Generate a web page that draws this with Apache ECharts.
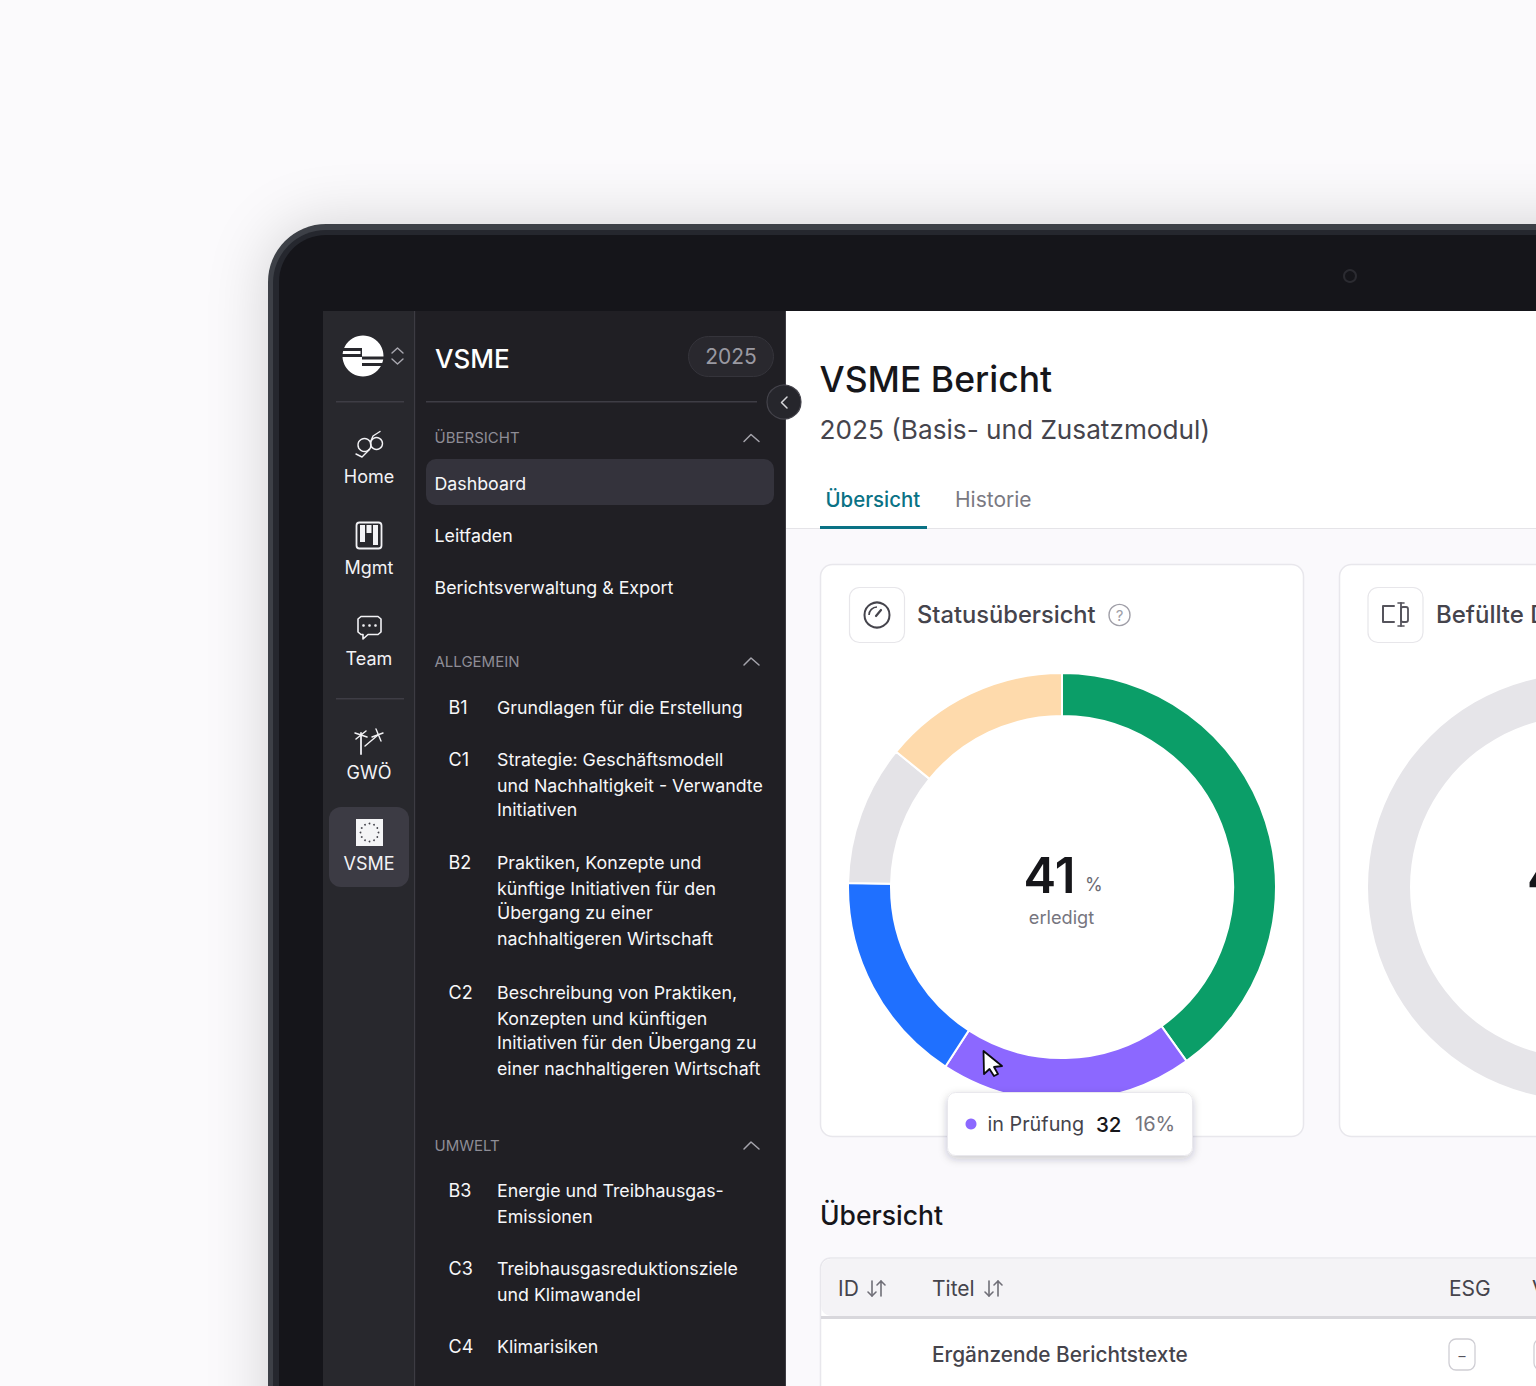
<!DOCTYPE html>
<html><head><meta charset="utf-8">
<style>html,body{margin:0;padding:0;background:#fbfafc;overflow:hidden}#c{width:1536px;height:1386px}</style>
<script src="https://cdn.jsdelivr.net/npm/echarts@6/dist/echarts.min.js"></script>
</head><body><div id="c"></div>
<script>
// Chart data
const statusNames = ['erledigt', 'in Prüfung', 'in Bearbeitung', 'offen', 'zurückgestellt'];
const statusValues = [67.4, 32, 27.1, 17.8, 23.7];
const statusColors = ['#0b9e68', '#8c68ff', '#1f70ff', '#e4e3e7', '#fedaac'];
const filledNames = ['leer'];
const filledValues = [1];
const filledColors = ['#e6e5e9'];
const doneText = '41';
const tooltipName = 'in Prüfung';
const tooltipCount = '32';
const tooltipShare = '16%';
// Navigation text
const railLabels = ['Home', 'Mgmt', 'Team', 'GWÖ', 'VSME'];
const railLabelY = [476, 567, 658, 772, 863];
const navTop = ['Dashboard', 'Leitfaden', 'Berichtsverwaltung & Export'];
const navTopY = [483, 535, 587];
const navSections = ['ÜBERSICHT', 'ALLGEMEIN', 'UMWELT'];
const navSectionY = [437.5, 661, 1145];
const navIds = ['B1', 'C1', 'B2', 'C2', 'B3', 'C3', 'C4'];
const navIdY = [707, 759, 862, 992, 1190.5, 1268, 1346];
const navLines = [
  ['Grundlagen für die Erstellung'],
  ['Strategie: Geschäftsmodell', 'und Nachhaltigkeit - Verwandte', 'Initiativen'],
  ['Praktiken, Konzepte und', 'künftige Initiativen für den', 'Übergang zu einer', 'nachhaltigeren Wirtschaft'],
  ['Beschreibung von Praktiken,', 'Konzepten und künftigen', 'Initiativen für den Übergang zu', 'einer nachhaltigeren Wirtschaft'],
  ['Energie und Treibhausgas-', 'Emissionen'],
  ['Treibhausgasreduktionsziele', 'und Klimawandel'],
  ['Klimarisiken']
];

const FONT = 'Inter, "Noto Sans", sans-serif';
const els = [];
function t(x, y, text, size, fill, weight, align, z) {
  els.push({type:'text', silent:true, z:z||3, style:{x, y, text, fill, fontFamily:FONT, fontSize:size, fontWeight:weight||400, textAlign:align||'left', textVerticalAlign:'middle'}});
}
function r(x, y, w, h, fill, rad, stroke, lw, z, extra) {
  els.push({type:'rect', silent:true, z:z||1, shape:{x, y, width:w, height:h, r:rad||0}, style:Object.assign({fill:fill||'transparent', stroke:stroke||null, lineWidth:lw||1}, extra||{})});
}
function c(cx, cy, rad, fill, stroke, lw, z) {
  els.push({type:'circle', silent:true, z:z||3, shape:{cx, cy, r:rad}, style:{fill:fill||'transparent', stroke:stroke||null, lineWidth:lw||1}});
}
function pl(points, stroke, lw, z) {
  els.push({type:'polyline', silent:true, z:z||3, shape:{points}, style:{fill:null, stroke, lineWidth:lw||1.5, lineCap:'round', lineJoin:'round'}});
}
function pg(points, fill, stroke, lw, z) {
  els.push({type:'polygon', silent:true, z:z||3, shape:{points}, style:{fill, stroke:stroke||null, lineWidth:lw||1, lineJoin:'round'}});
}

// Laptop frame
r(268, 224, 1600, 1600, '#3c4046', 58, null, 1, 0, {shadowBlur:60, shadowColor:'rgba(30,30,50,0.16)'});
r(273, 230, 1600, 1600, '#25272e', 53, null, 1, 0);
r(279, 235, 1600, 1600, '#15151a', 47, null, 1, 0);
c(1350, 276, 6, 'transparent', '#2b2b31', 2, 1);

// Screen panels
r(323, 311, 91, 1100, '#28282d');
r(414, 311, 1.5, 1100, '#3d3c43');
r(415.5, 311, 370, 1100, '#201f24');
r(785, 311, 1.5, 1100, '#3d3c43');
r(786, 311, 800, 217, '#ffffff');
r(786, 528, 800, 900, '#faf9fc');
r(786, 528, 800, 1, '#e5e4e8');

// Rail
c(363, 356, 20.5, '#ffffff');
r(342, 348, 20, 3, '#28282d', 0, null, 1, 3);
r(342, 354, 20, 3, '#28282d', 0, null, 1, 3);
r(362, 356.5, 22, 3, '#28282d', 0, null, 1, 3);
r(362, 363, 22, 3, '#28282d', 0, null, 1, 3);
r(360.5, 348, 1.5, 9, '#28282d', 0, null, 1, 3);
pl([[392,353],[397.5,348],[403,353]], '#a9a8b0', 1.4);
pl([[392,359],[397.5,364],[403,359]], '#a9a8b0', 1.4);
r(336, 401, 68, 1.5, '#3e3d45', 0, null, 1, 2);
r(336, 698, 68, 1.5, '#3e3d45', 0, null, 1, 2);
r(329, 807, 80, 80, '#3c3b44', 12, null, 1, 2);
railLabels.forEach((s, i) => t(369, railLabelY[i], s, 18, '#f2f2f5', 400, 'center'));
// Home icon
c(376.5, 443.5, 6, null, '#f2f2f5', 1.4);
c(364.5, 445, 6.5, null, '#f2f2f5', 1.4);
pl([[370.5,442],[373,436],[380,431.5]], '#f2f2f5', 1.4);
pl([[369.5,449.5],[366,453],[362,457],[356,454]], '#f2f2f5', 1.4);
// Mgmt icon
r(356.5, 522.5, 25, 26, 'transparent', 3, '#f2f2f5', 1.8, 3);
r(360, 525, 5, 17, '#f2f2f5', 0, null, 1, 3);
r(366.5, 525, 5, 8, '#f2f2f5', 0, null, 1, 3);
r(373, 525, 5, 20, '#f2f2f5', 0, null, 1, 3);
// Team icon
pl([[361,616.5],[378,616.5],[381,619],[381,632],[378,634.5],[368,634.5],[363,639],[363,634.5],[361,634.5],[358,632],[358,619],[361,616.5]], '#f2f2f5', 1.6);
c(363.5, 625.5, 1.3, '#f2f2f5'); c(369.5, 625.5, 1.3, '#f2f2f5'); c(375.5, 625.5, 1.3, '#f2f2f5');
// GWÖ icon
pl([[361,733],[361,754]], '#d9d9de', 2);
pl([[355,733],[367,737]], '#f2f2f5', 1.5);
pl([[356,739],[366,731]], '#f2f2f5', 1.5);
pl([[365,746],[378,735]], '#f2f2f5', 1.4);
pl([[376,729],[381,741]], '#f2f2f5', 1.4);
pl([[372,737],[383,733]], '#f2f2f5', 1.4);
// VSME icon
r(356, 819, 27, 27, '#f4f4f6', 0, null, 1, 3);
[0,30,60,90,120,150,180,210,240,270,300,330].forEach(a => {
  c(369.5 + 9 * Math.cos(a * Math.PI / 180), 832.5 + 9 * Math.sin(a * Math.PI / 180), 0.9, '#44434c');
});

// Nav panel
t(435, 358, 'VSME', 26, '#ffffff', 500);
r(688.5, 336.5, 85, 40, '#29282e', 20, '#35343b', 1, 2);
t(731, 356, '2025', 21, '#9a99a2', 400, 'center');
r(426, 401, 331, 1.5, '#3e3d45', 0, null, 1, 2);
c(784, 402, 17, '#26262c', '#44434b', 1.2, 4);
pl([[787,397],[781.5,402.5],[787,408]], '#d6d6da', 1.5, 5);
r(426, 459, 348, 46, '#34333c', 10, null, 1, 2);
navSections.forEach((s, i) => {
  t(434.5, navSectionY[i], s, 15, '#8e8d96', 400);
  pl([[744, navSectionY[i] + 4],[751, navSectionY[i] - 3],[759, navSectionY[i] + 4]], '#a5a4ac', 1.5);
});
navTop.forEach((s, i) => t(434.5, navTopY[i], s, 17.8, '#f7f7f9', 400));
const lineSteps = [0, 26, 50, 76];
navIds.forEach((id, i) => {
  t(448.5, navIdY[i], id, 18, '#f7f7f9', 400);
  navLines[i].forEach((s, j) => t(497, navIdY[i] + lineSteps[j], s, 17.8, '#f7f7f9', 400));
});

// Header
t(819.5, 379, 'VSME Bericht', 35.5, '#16161a', 500);
t(819.5, 429, '2025 (Basis- und Zusatzmodul)', 26.2, '#45444c', 400);
t(825.5, 499, 'Übersicht', 20.4, '#0a7285', 500);
t(955, 499, 'Historie', 21, '#7a7982', 400);
r(820, 526, 107, 3, '#0a7285', 0, null, 1, 3);

// Cards
r(820.5, 564.5, 483, 572, '#ffffff', 12, '#e8e7ec', 1.5, 1);
r(1339.5, 564.5, 500, 572, '#ffffff', 12, '#e8e7ec', 1.5, 1);
r(849.5, 587.5, 55, 55, '#ffffff', 10, '#e7e6ea', 1.2, 2);
r(1368, 587.5, 55, 55, '#ffffff', 10, '#e7e6ea', 1.2, 2);
// Gauge icon
c(877, 615, 12.5, null, '#45444c', 2);
els.push({type:'arc', silent:true, z:3, shape:{cx:877, cy:615, r:8, startAngle:Math.PI*1.0, endAngle:Math.PI*1.5}, style:{fill:null, stroke:'#45444c', lineWidth:1.6}});
pl([[876,616],[881,610]], '#45444c', 2.2);
t(917, 614, 'Statusübersicht', 23.7, '#45444c', 500);
c(1119.5, 615, 10.5, null, '#a09fa8', 1.4);
t(1119.5, 615.5, '?', 15, '#a09fa8', 400, 'center');
// Second card icon
pl([[1394,606],[1383,606],[1383,622],[1394,622]], '#55545c', 2);
r(1401, 607, 7, 15, 'transparent', 2, '#55545c', 1.8, 3);
pl([[1398,603],[1404,603]], '#55545c', 1.6); pl([[1401,603],[1401,626]], '#55545c', 1.8); pl([[1398,626],[1404,626]], '#55545c', 1.6);
t(1436, 614, 'Befüllte D', 24, '#45444c', 500);

// Donut centre
t(1049.5, 875.5, doneText, 49, '#16161a', 600, 'center', 4);
t(1085, 884, '%', 18, '#6b6a73', 400, 'left', 4);
t(1061.5, 917, 'erledigt', 18.2, '#76757e', 400, 'center', 4);
t(1527, 876, '4', 49, '#16161a', 600, 'left', 4);

// Cursor
pg([[983.5,1051],[984,1074],[989.5,1069],[994,1076],[998,1074],[994,1067],[1002,1066]], '#ffffff', '#0c0c10', 1.8, 6);

// Tooltip
r(947.5, 1092.5, 245, 63, '#ffffff', 8, '#e9e8ed', 1, 8, {shadowBlur:8, shadowOffsetY:3, shadowColor:'rgba(30,30,50,0.22)'});
c(971, 1124, 5.5, statusColors[1], null, 1, 9);
t(987.5, 1124, tooltipName, 19.8, '#45444c', 400, 'left', 9);
t(1096, 1124, tooltipCount, 20.5, '#16161a', 500, 'left', 9);
t(1135, 1124, tooltipShare, 20, '#75747c', 400, 'left', 9);

// Table
t(820, 1215, 'Übersicht', 26.5, '#16161a', 500);
r(820.5, 1258, 800, 200, '#ffffff', 10, '#e8e7ec', 1.5, 1);
r(821, 1259, 800, 57, '#f4f3f6', 10, null, 1, 2);
r(821, 1316, 800, 3, '#d8d7dc', 0, null, 1, 2);
t(838, 1288, 'ID', 21, '#45444c', 400);
t(932, 1288, 'Titel', 21, '#45444c', 400);
t(1449, 1288, 'ESG', 21, '#45444c', 400);
t(1532, 1288, 'V', 21, '#45444c', 400);
[868, 985].forEach(x => {
  pl([[x+4,1281],[x+4,1296]], '#6f6e77', 1.6); pl([[x,1292],[x+4,1296],[x+8,1292]], '#6f6e77', 1.6);
  pl([[x+13,1281],[x+13,1296]], '#6f6e77', 1.6); pl([[x+9,1285],[x+13,1281],[x+17,1285]], '#6f6e77', 1.6);
});
t(932, 1354, 'Ergänzende Berichtstexte', 20.8, '#45444c', 500);
r(1449, 1339, 26, 31, '#ffffff', 7, '#cfced4', 1.3, 2);
t(1462, 1355, '–', 14, '#55545c', 400, 'center');
r(1534, 1339, 26, 31, '#ffffff', 7, '#cfced4', 1.3, 2);

const chart = echarts.init(document.getElementById('c'), null, {renderer:'svg', width:1536, height:1386});
chart.setOption({
  animation:false,
  backgroundColor:'#fbfafc',
  graphic:{elements:els},
  series:[
    {type:'pie', z:2, silent:true, center:[1062,887], radius:[171,214], startAngle:90, clockwise:true,
     label:{show:false}, labelLine:{show:false}, emphasis:{disabled:true},
     itemStyle:{borderColor:'#ffffff', borderWidth:2},
     data:statusValues.map((v,i)=>({name:statusNames[i], value:v, itemStyle:{color:statusColors[i]}}))},
    {type:'pie', z:2, silent:true, center:[1581,887], radius:[171,213], startAngle:90,
     label:{show:false}, labelLine:{show:false}, emphasis:{disabled:true},
     data:filledValues.map((v,i)=>({name:filledNames[i], value:v, itemStyle:{color:filledColors[i]}}))}
  ]
});
</script></body></html>
